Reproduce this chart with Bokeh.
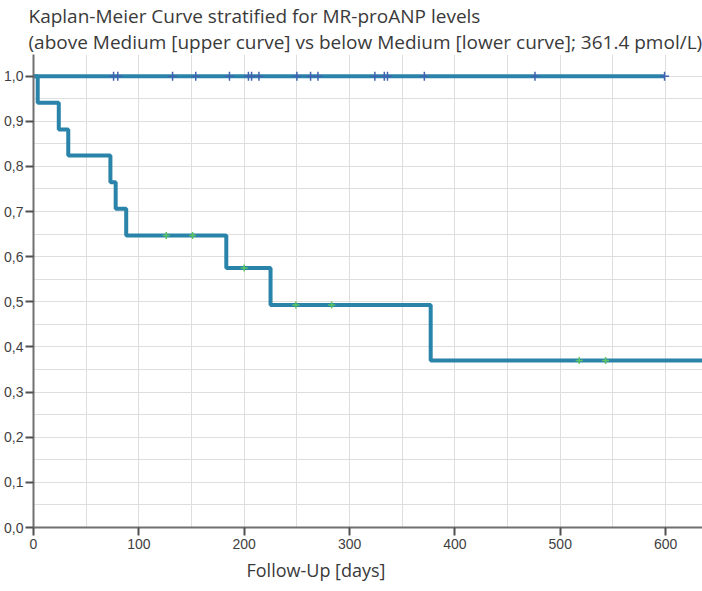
from bokeh.plotting import figure
from bokeh.models import (Range1d, FixedTicker, SingleIntervalTicker, CustomJSTickFormatter,
                          Title)
from bokeh.embed import file_html
from bokeh.resources import INLINE

# ---- data ----
title_line1 = "Kaplan-Meier Curve stratified for MR-proANP levels"
title_line2 = "(above Medium [upper curve] vs below Medium [lower curve]; 361.4 pmol/L)"
x_label = "Follow-Up [days]"

x_ticks = [0, 100, 200, 300, 400, 500, 600]
y_ticks = [0.0, 0.1, 0.2, 0.3, 0.4, 0.5, 0.6, 0.7, 0.8, 0.9, 1.0]

# lower curve (below median)
lower_event_days = [0, 4, 24, 33, 73, 78, 88, 183, 225, 377]
lower_survival = [1.0, 0.941, 0.882, 0.824, 0.765, 0.706, 0.647, 0.575, 0.493, 0.370]
lower_end_day = 640
lower_censor_days = [126, 151, 200, 249, 283, 518, 543]

# upper curve (above median)
upper_event_days = [0]
upper_survival = [1.0]
upper_end_day = 599
upper_censor_days = [76, 80, 132, 154, 186, 204, 207, 214, 250, 263, 270,
                     324, 333, 336, 371, 476, 599]

X_MAX = 635
Y_MAX = 1.048

LINE_COLOR = "#2a84aa"


def step_value(days, surv, d):
    v = surv[0]
    for dd, s in zip(days, surv):
        if dd <= d:
            v = s
    return v


p = figure(width=702, height=591, output_backend="svg", toolbar_location=None,
           x_range=Range1d(0, X_MAX), y_range=Range1d(0, Y_MAX),
           min_border_left=33, min_border_right=0, min_border_top=48,
           min_border_bottom=64)
p.outline_line_color = None
p.background_fill_color = "white"
p.border_fill_color = "white"

# title (two lines)
p.title.text = title_line1 + "\n" + title_line2
p.title.text_font = "Open Sans"
p.title.text_font_size = "19px"
p.title.text_font_style = "normal"
p.title.text_color = "#3a3a3a"
p.title.align = "left"
p.title.offset = -5
p.title.standoff = 0

# grids
p.xgrid.ticker = SingleIntervalTicker(interval=50)
p.ygrid.ticker = SingleIntervalTicker(interval=0.05)
for g in (p.xgrid, p.ygrid):
    g.grid_line_color = "#dedede"
    g.grid_line_width = 1

# axes
p.xaxis.ticker = FixedTicker(ticks=x_ticks)
p.yaxis.ticker = FixedTicker(ticks=y_ticks)
p.yaxis.formatter = CustomJSTickFormatter(code="return tick.toFixed(1).replace('.', ',');")
for ax in (p.xaxis, p.yaxis):
    ax.axis_line_color = "#707070"
    ax.axis_line_width = 2
    ax.major_tick_line_color = "#505050"
    ax.major_tick_line_width = 2
    ax.major_tick_out = 8
    ax.major_tick_in = 0
    ax.minor_tick_line_color = None
    ax.major_label_text_font = "Liberation Sans"
    ax.major_label_text_font_size = "14px"
    ax.major_label_text_color = "#3f3f3f"
p.xaxis.major_label_standoff = 3
p.yaxis.major_label_standoff = 2

# x axis label, placed left of the frame centre as in the reference
p.add_layout(Title(text=x_label, align="left", offset=213, standoff=8,
                   text_font="Open Sans", text_font_size="18px",
                   text_font_style="normal", text_color="#3a3a3a"), "below")

# curves
lx = lower_event_days + [lower_end_day]
ly = lower_survival + [lower_survival[-1]]
p.step(lx, ly, mode="after", line_color=LINE_COLOR, line_width=4)

ux = upper_event_days + [upper_end_day]
uy = upper_survival + [upper_survival[-1]]
p.step(ux, uy, mode="after", line_color=LINE_COLOR, line_width=4)

# censor marks
lc_y = [step_value(lower_event_days, lower_survival, d) for d in lower_censor_days]
p.scatter(lower_censor_days, lc_y, marker="cross", size=7, line_width=1.5,
          line_color="#5cc460")
uc_y = [step_value(upper_event_days, upper_survival, d) for d in upper_censor_days]
p.scatter(upper_censor_days, uc_y, marker="cross", size=9, line_width=1.5,
          line_color="#4062b0")

open("out.html", "w").write(file_html(p, INLINE))
